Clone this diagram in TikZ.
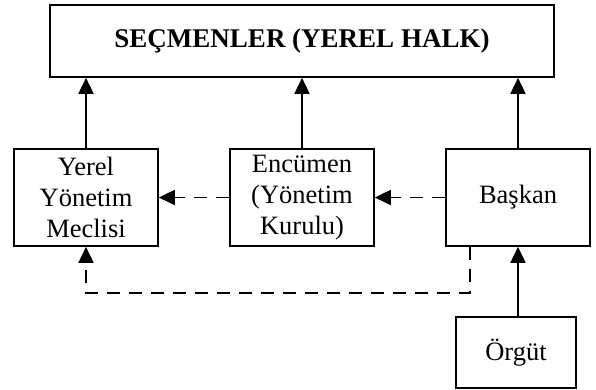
\documentclass[tikz,border=0pt]{standalone}
\usepackage{fontspec}
\setmainfont{Liberation Serif}
\usetikzlibrary{arrows.meta}
\begin{document}
\begin{tikzpicture}[x=1pt,y=-1pt,
  box/.style={draw,line width=1.6pt,inner sep=0pt,align=center,font=\fontsize{26.5}{31}\selectfont},
  tip/.style={-{Triangle[length=16pt,width=15pt]}},
  solidarr/.style={tip,line width=1.6pt},
  dasharr/.style={tip,line width=1.6pt,dash pattern=on 13pt off 9pt}]
\useasboundingbox (0,0) rectangle (596,389);
\node[box,minimum width=504pt,minimum height=72pt,font=\fontsize{27}{31}\selectfont\bfseries] (top) at (302,41) {SEÇMENLER (YEREL HALK)};
\node[box,minimum width=144pt,minimum height=97pt] (mec) at (86,197.5) {Yerel\\Yönetim\\Meclisi};
\node[box,minimum width=144pt,minimum height=97pt] (enc) at (302,197.5) {Encümen\\(Yönetim\\Kurulu)};
\node[box,minimum width=144pt,minimum height=97pt] (bas) at (518,197.5) {\raisebox{7pt}{Başkan}};
\node[box,minimum width=120pt,minimum height=71pt] (org) at (516,352.5) {Örgüt};
\coordinate (c1) at (470,293);
\coordinate (c2) at (86,293);
\draw[solidarr] (mec.north) -- (mec.north |- top.south);
\draw[solidarr] (enc.north) -- (enc.north |- top.south);
\draw[solidarr] (bas.north) -- (bas.north |- top.south);
\draw[dasharr] (enc.west) -- (mec.east);
\draw[dasharr] (bas.west) -- (enc.east);
\draw[dasharr] (c1 |- bas.south) -- (c1) -- (c2) -- (mec.south);
\draw[solidarr] (org.north -| bas.south) -- (bas.south);
\end{tikzpicture}
\end{document}
